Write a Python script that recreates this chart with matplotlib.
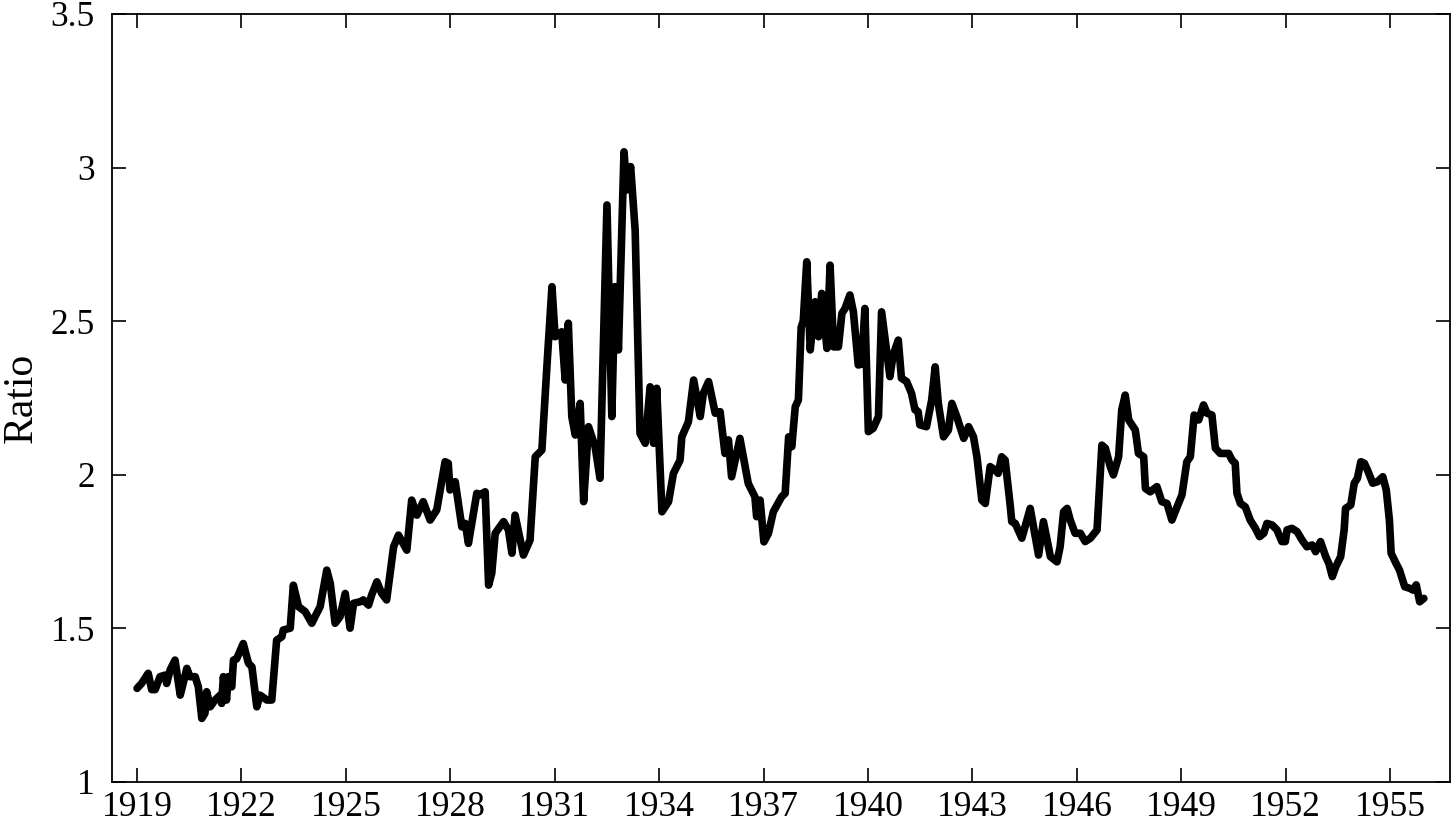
import matplotlib
matplotlib.use("Agg")
import matplotlib.pyplot as plt

# Traced vertices of the series (decimal year, ratio)
years = [
    1919.00, 1919.13, 1919.32, 1919.42, 1919.52, 1919.66, 1919.80, 1919.85, 1919.95, 1920.09,
    1920.24, 1920.28, 1920.43, 1920.52, 1920.67, 1920.76, 1920.86, 1920.95, 1921.00, 1921.10,
    1921.24, 1921.39, 1921.43, 1921.48, 1921.57, 1921.62, 1921.72, 1921.77, 1921.86, 1922.05,
    1922.20, 1922.30, 1922.44, 1922.53, 1922.73, 1922.87, 1923.01, 1923.16, 1923.20, 1923.40,
    1923.49, 1923.64, 1923.83, 1924.02, 1924.16, 1924.26, 1924.45, 1924.55, 1924.69, 1924.83,
    1924.98, 1925.12, 1925.22, 1925.41, 1925.50, 1925.65, 1925.74, 1925.89, 1926.03, 1926.17,
    1926.37, 1926.51, 1926.75, 1926.89, 1927.04, 1927.22, 1927.42, 1927.61, 1927.85, 1927.94,
    1927.99, 1928.14, 1928.33, 1928.43, 1928.52, 1928.76, 1928.86, 1929.00, 1929.10, 1929.19,
    1929.29, 1929.53, 1929.67, 1929.77, 1929.86, 1930.10, 1930.29, 1930.44, 1930.63, 1930.78,
    1930.92, 1931.01, 1931.20, 1931.30, 1931.39, 1931.49, 1931.59, 1931.73, 1931.83, 1931.97,
    1932.16, 1932.30, 1932.50, 1932.64, 1932.73, 1932.83, 1932.99, 1933.07, 1933.18, 1933.31,
    1933.45, 1933.60, 1933.74, 1933.84, 1933.93, 1934.08, 1934.27, 1934.41, 1934.60, 1934.65,
    1934.84, 1934.99, 1935.18, 1935.27, 1935.42, 1935.61, 1935.75, 1935.89, 1935.99, 1936.08,
    1936.32, 1936.56, 1936.75, 1936.80, 1936.90, 1937.01, 1937.14, 1937.28, 1937.52, 1937.62,
    1937.72, 1937.81, 1937.91, 1938.00, 1938.08, 1938.14, 1938.24, 1938.34, 1938.48, 1938.58,
    1938.67, 1938.82, 1938.91, 1939.01, 1939.15, 1939.25, 1939.34, 1939.48, 1939.58, 1939.72,
    1939.82, 1939.91, 1940.01, 1940.15, 1940.30, 1940.39, 1940.53, 1940.63, 1940.72, 1940.87,
    1940.96, 1941.11, 1941.25, 1941.35, 1941.44, 1941.49, 1941.68, 1941.83, 1941.93, 1942.02,
    1942.17, 1942.31, 1942.41, 1942.55, 1942.75, 1942.89, 1943.03, 1943.13, 1943.27, 1943.37,
    1943.51, 1943.65, 1943.74, 1943.84, 1943.94, 1944.09, 1944.13, 1944.23, 1944.42, 1944.66,
    1944.90, 1945.04, 1945.24, 1945.43, 1945.52, 1945.62, 1945.72, 1945.81, 1945.95, 1946.10,
    1946.24, 1946.39, 1946.58, 1946.72, 1946.82, 1946.96, 1947.05, 1947.20, 1947.29, 1947.39,
    1947.49, 1947.68, 1947.77, 1947.92, 1947.97, 1948.11, 1948.30, 1948.44, 1948.59, 1948.73,
    1948.88, 1949.02, 1949.16, 1949.26, 1949.37, 1949.50, 1949.64, 1949.74, 1949.88, 1949.98,
    1950.12, 1950.36, 1950.46, 1950.55, 1950.60, 1950.70, 1950.84, 1950.98, 1951.13, 1951.25,
    1951.37, 1951.46, 1951.61, 1951.75, 1951.89, 1951.99, 1952.04, 1952.18, 1952.33, 1952.47,
    1952.61, 1952.76, 1952.86, 1953.00, 1953.15, 1953.24, 1953.34, 1953.44, 1953.58, 1953.68,
    1953.72, 1953.87, 1953.97, 1954.06, 1954.16, 1954.26, 1954.35, 1954.50, 1954.64, 1954.79,
    1954.89, 1954.98, 1955.03, 1955.17, 1955.27, 1955.42, 1955.56, 1955.66, 1955.75, 1955.85,
    1955.97,
]
ratio = [
    1.304, 1.320, 1.353, 1.300, 1.300, 1.342, 1.347, 1.320, 1.364, 1.396,
    1.282, 1.300, 1.369, 1.342, 1.342, 1.309, 1.206, 1.223, 1.293, 1.244,
    1.266, 1.282, 1.255, 1.342, 1.266, 1.342, 1.309, 1.396, 1.400, 1.450,
    1.386, 1.374, 1.244, 1.282, 1.266, 1.266, 1.461, 1.472, 1.494, 1.500,
    1.640, 1.570, 1.554, 1.516, 1.548, 1.570, 1.689, 1.646, 1.516, 1.537,
    1.613, 1.500, 1.581, 1.586, 1.592, 1.575, 1.608, 1.651, 1.613, 1.592,
    1.765, 1.803, 1.754, 1.917, 1.868, 1.912, 1.852, 1.885, 2.042, 2.037,
    1.950, 1.977, 1.830, 1.841, 1.776, 1.939, 1.934, 1.944, 1.640, 1.679,
    1.809, 1.847, 1.820, 1.744, 1.868, 1.738, 1.787, 2.058, 2.080, 2.362,
    2.612, 2.449, 2.465, 2.308, 2.493, 2.189, 2.129, 2.232, 1.912, 2.156,
    2.091, 1.988, 2.878, 2.189, 2.612, 2.406, 3.051, 2.927, 3.003, 2.796,
    2.134, 2.102, 2.286, 2.102, 2.281, 1.879, 1.912, 2.004, 2.047, 2.123,
    2.172, 2.308, 2.189, 2.265, 2.303, 2.200, 2.205, 2.069, 2.113, 1.993,
    2.118, 1.971, 1.928, 1.863, 1.917, 1.781, 1.809, 1.879, 1.928, 1.939,
    2.123, 2.091, 2.221, 2.243, 2.480, 2.500, 2.693, 2.406, 2.563, 2.449,
    2.590, 2.411, 2.682, 2.416, 2.416, 2.525, 2.541, 2.585, 2.530, 2.357,
    2.360, 2.541, 2.140, 2.151, 2.189, 2.530, 2.406, 2.319, 2.389, 2.438,
    2.314, 2.303, 2.265, 2.211, 2.205, 2.162, 2.156, 2.243, 2.351, 2.232,
    2.123, 2.145, 2.232, 2.189, 2.118, 2.156, 2.123, 2.058, 1.917, 1.906,
    2.026, 2.015, 2.004, 2.058, 2.047, 1.895, 1.847, 1.841, 1.793, 1.890,
    1.738, 1.847, 1.733, 1.716, 1.765, 1.879, 1.890, 1.852, 1.809, 1.809,
    1.782, 1.793, 1.820, 2.096, 2.086, 2.026, 1.999, 2.058, 2.211, 2.259,
    2.178, 2.145, 2.069, 2.058, 1.955, 1.944, 1.961, 1.912, 1.906, 1.852,
    1.895, 1.934, 2.042, 2.058, 2.194, 2.178, 2.227, 2.200, 2.194, 2.086,
    2.069, 2.069, 2.047, 2.037, 1.939, 1.906, 1.895, 1.852, 1.825, 1.798,
    1.809, 1.841, 1.836, 1.820, 1.782, 1.782, 1.820, 1.825, 1.814, 1.787,
    1.765, 1.771, 1.749, 1.782, 1.733, 1.711, 1.668, 1.700, 1.733, 1.820,
    1.890, 1.901, 1.972, 1.988, 2.042, 2.037, 2.015, 1.972, 1.977, 1.993,
    1.950, 1.852, 1.744, 1.711, 1.689, 1.635, 1.630, 1.624, 1.641, 1.586,
    1.597,
]

xtick_years = list(range(1919, 1956, 3))
ytick_vals = [1, 1.5, 2, 2.5, 3, 3.5]
ytick_labels = ["1", "1.5", "2", "2.5", "3", "3.5"]

plt.rcParams['font.family'] = ['Liberation Serif', 'DejaVu Serif']

fig = plt.figure(figsize=(14.52, 8.31), dpi=100)
ax = fig.add_axes([0.0769, 0.0593, 0.9217, 0.9239])

ax.plot(years, ratio, color='black', linewidth=5.5, solid_joinstyle='round', solid_capstyle='round')

ax.set_xlim(1918.27, 1956.72)
ax.set_ylim(1, 3.5)
ax.set_xticks(xtick_years)
ax.set_xticklabels([str(y) for y in xtick_years])
ax.set_yticks(ytick_vals)
ax.set_yticklabels(ytick_labels)

ax.tick_params(axis='both', which='major', direction='in', length=10, width=1.2,
               labelsize=25.5, top=True, right=True, colors='black')
ax.tick_params(axis='x', pad=7)
ax.tick_params(axis='y', pad=12)
for s in ax.spines.values():
    s.set_linewidth(1.3)
    s.set_color('black')

fig.text(0.0145, 0.521, "Ratio", fontsize=30, rotation=90, ha='center', va='center')

fig.savefig("out.png", dpi=100)
